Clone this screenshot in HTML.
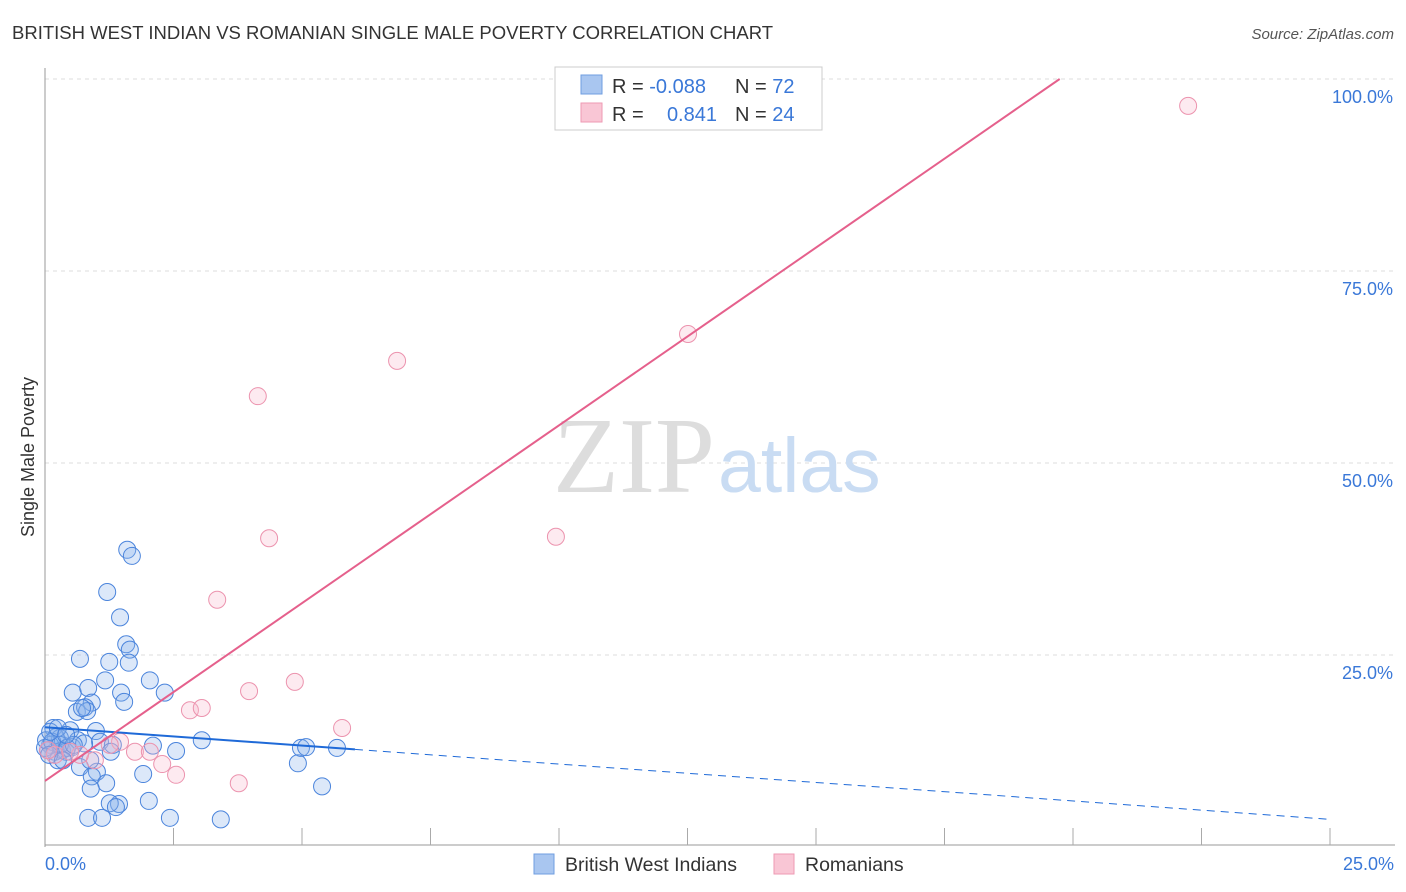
<!DOCTYPE html>
<html><head><meta charset="utf-8"><style>
body{margin:0;background:#fff;font-family:"Liberation Sans",sans-serif;}
svg{display:block}
</style></head><body>
<svg id="chart" width="1406" height="892" xmlns="http://www.w3.org/2000/svg">
<text x="12" y="39" font-size="18.5" fill="#333">BRITISH WEST INDIAN VS ROMANIAN SINGLE MALE POVERTY CORRELATION CHART</text>
<text x="1394" y="39" font-size="15" fill="#555" font-style="italic" text-anchor="end">Source: ZipAtlas.com</text>
<g id="grid"></g>
<g>
<text x="553" y="492" font-size="108" font-family="Liberation Serif,serif" fill="#ddd">ZIP</text>
<text x="718" y="492" font-size="77" fill="#c9dcf3">atlas</text>
</g>
<line x1="45" y1="68" x2="45" y2="847" stroke="#999" stroke-width="1"/>
<line x1="45" y1="845" x2="1395" y2="845" stroke="#999" stroke-width="1"/>
<g id="xticks"></g>
<text transform="translate(34,457) rotate(-90)" font-size="18" fill="#333" text-anchor="middle">Single Male Poverty</text>
<text x="45" y="870" font-size="18" fill="#3a78d8">0.0%</text>
<text x="1394" y="870" font-size="18" fill="#3a78d8" text-anchor="end">25.0%</text>
<g id="ylabels"></g>
<g id="points"></g>
<g id="lines"></g>
<g>
<rect x="555" y="67" width="267" height="63" fill="#fff" stroke="#ccc"/>
<rect x="581" y="75" width="21" height="19" fill="#a9c6f0" stroke="#6f9ee0"/>
<rect x="581" y="103" width="21" height="19" fill="#f9c6d5" stroke="#ee9ab3"/>
<text x="612" y="93" font-size="20" fill="#333">R = <tspan fill="#3a78d8">-0.088</tspan></text>
<text x="735" y="93" font-size="20" fill="#333">N = <tspan fill="#3a78d8">72</tspan></text>
<text x="612" y="121" font-size="20" fill="#333">R = </text>
<text x="717" y="121" font-size="20" fill="#3a78d8" text-anchor="end">0.841</text>
<text x="735" y="121" font-size="20" fill="#333">N = <tspan fill="#3a78d8">24</tspan></text>
</g>
<g>
<rect x="534" y="854" width="20" height="20" fill="#a9c6f0" stroke="#6f9ee0"/>
<text x="565" y="871" font-size="19.5" fill="#333">British West Indians</text>
<rect x="774" y="854" width="20" height="20" fill="#f9c6d5" stroke="#ee9ab3"/>
<text x="805" y="871" font-size="19.5" fill="#333">Romanians</text>
</g>
</svg>
<script>
const yTicks=[25,50,75,100];
const yTickLabels=["25.0%","50.0%","75.0%","100.0%"];
const xTicks=[2.5,5,7.5,10,12.5,15,17.5,20,22.5,25];
const blueX=[1.60,1.69,1.21,1.46,1.58,1.65,0.68,1.25,1.63,1.17,2.04,0.54,1.48,2.33,0.84,1.54,0.62,0.91,0.78,0.82,0.72,0.99,0.16,0.49,0.21,0.29,0.10,0.06,0.33,0.53,0.64,1.07,1.32,0.76,0.41,0.19,1.28,2.10,2.55,3.05,0.25,0.68,1.01,0.91,1.19,1.91,0.89,1.44,1.26,1.38,2.02,0.84,1.11,2.43,3.42,4.92,4.98,5.08,5.68,5.39,0.0,0.02,0.14,0.29,0.43,0.56,0.08,0.35,0.10,0.25,0.41,0.88];
const blueY=[38.7,37.9,33.2,29.9,26.4,25.7,24.5,24.1,24.0,21.7,21.7,20.1,20.1,20.1,20.7,18.9,17.6,18.8,18.2,17.7,18.1,15.1,15.5,15.2,14.3,14.2,13.3,12.6,12.6,13.0,13.9,13.7,13.3,13.5,12.4,12.4,12.4,13.2,12.5,13.9,11.3,10.4,9.8,9.2,8.3,9.5,7.6,5.6,5.7,5.2,6.0,3.8,3.8,3.8,3.6,10.9,12.9,13.0,12.9,7.9,12.9,13.9,13.7,13.3,12.9,13.3,12.0,11.3,15.0,15.5,14.6,11.3];
const pinkX=[22.24,12.51,6.85,4.14,4.36,9.94,3.35,4.86,3.97,2.82,3.05,5.78,1.46,1.75,2.04,2.28,2.55,3.77,0.97,0.68,0.19,0.06,0.49,1.26];
const pinkY=[96.5,66.8,63.3,58.7,40.2,40.4,32.2,21.5,20.3,17.8,18.1,15.5,13.7,12.4,12.4,10.8,9.4,8.3,11.3,12.0,12.0,12.6,12.4,13.3];
const blueFit=[15.6,-0.48];
const pinkFit=[8.6,4.63];
const NS="http://www.w3.org/2000/svg";
function sx(v){return 45+v*51.4;}
function sy(v){return 847-v*7.68;}
function mk(tag,parent,attrs){const e=document.createElementNS(NS,tag);for(const k in attrs)e.setAttribute(k,attrs[k]);document.getElementById(parent).appendChild(e);return e;}
yTicks.forEach((t,i)=>{
  const g=mk('line','grid',{x1:45,x2:1395,y1:sy(t),y2:sy(t),stroke:'#ddd','stroke-dasharray':'4,4'});
  
  
  const l=mk('text','ylabels',{x:1393,y:sy(t)+24,'font-size':18,fill:'#3a78d8','text-anchor':'end'});
  l.textContent=yTickLabels[i];
  
  
});
xTicks.forEach(t=>{
  const k=mk('line','xticks',{x1:sx(t),x2:sx(t),y1:828,y2:845,stroke:'#aaa'});
  
  
});
blueX.forEach((x,i)=>{
  const c=mk('circle','points',{cx:sx(x),cy:sy(blueY[i]),r:8.5,fill:'rgba(140,180,235,0.3)',stroke:'#4a84dc','stroke-width':1});
  
  
});
pinkX.forEach((x,i)=>{
  const c=mk('circle','points',{cx:sx(x),cy:sy(pinkY[i]),r:8.5,fill:'rgba(248,185,205,0.3)',stroke:'#ec93ae','stroke-width':1});
  
  
});
const bEnd=6.03;
const b1=mk('line','lines',{x1:sx(0),y1:sy(blueFit[0]),x2:sx(bEnd),y2:sy(blueFit[0]+blueFit[1]*bEnd),stroke:'#1f6ad8','stroke-width':2});


const b2=mk('line','lines',{x1:sx(bEnd),y1:sy(blueFit[0]+blueFit[1]*bEnd),x2:sx(25),y2:sy(blueFit[0]+blueFit[1]*25),stroke:'#1f6ad8','stroke-width':1,'stroke-dasharray':'8,6'});


const pEnd=(100-pinkFit[0])/pinkFit[1];
const p1=mk('line','lines',{x1:sx(0),y1:sy(pinkFit[0]),x2:sx(pEnd),y2:sy(100),stroke:'#e5608c','stroke-width':2});


</script>
</body></html>
